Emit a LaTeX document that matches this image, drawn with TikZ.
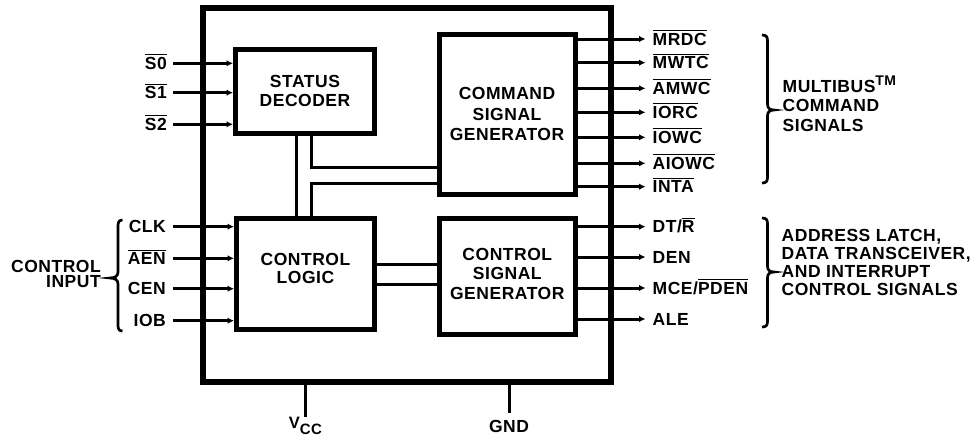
\documentclass[tikz,border=0pt]{standalone}
\usepackage{fontspec}
\setmainfont{Liberation Sans}[LetterSpace=3]
\usetikzlibrary{arrows.meta}
\newsavebox\ovlbox
\newcommand\ovl[1]{\sbox\ovlbox{#1}\rlap{\smash{\raisebox{\dimexpr\ht\ovlbox+1.8pt\relax}{\rule{\wd\ovlbox}{0.9pt}}}}\usebox\ovlbox}
\begin{document}
\begin{tikzpicture}[x=1pt,y=-1pt,
  txt/.style={inner sep=0pt, font=\fontsize{17.5}{19}\selectfont\bfseries},
  blk/.style={draw, line width=5pt},
  sig/.style={line width=3pt, -{Latex[length=6.5pt,width=6.5pt]}},
  bus/.style={line width=2.7pt},
  brc/.style={line width=2.7pt},
  pin/.style={line width=3pt}]
\useasboundingbox (0,0) rectangle (980,439);
% chip outline and blocks
\node[draw, line width=6pt, minimum width=408pt, minimum height=373.5pt] (chip) at (407,194.75) {};
\node[blk, minimum width=139pt, minimum height=83.5pt] (sd) at (305,91.5) {};
\node[blk, minimum width=135.5pt, minimum height=160pt] (cg) at (507.3,114.5) {};
\node[blk, minimum width=138pt, minimum height=111.5pt] (cl) at (305.5,273.8) {};
\node[blk, minimum width=136.5pt, minimum height=116pt] (cs) at (507.3,276) {};
% block texts
\node[txt, align=center, font=\fontsize{17.5}{18.3}\selectfont\bfseries] (sdT) at (305,91) {STATUS\\DECODER};
\node[txt, align=center, font=\fontsize{17.5}{20.3}\selectfont\bfseries] (cgT) at (507,114) {COMMAND\\SIGNAL\\GENERATOR};
\node[txt, align=center, font=\fontsize{17.5}{18.3}\selectfont\bfseries] (clT) at (305.5,268.3) {CONTROL\\LOGIC};
\node[txt, align=center, font=\fontsize{17.5}{19.5}\selectfont\bfseries] (csT) at (507.3,273.8) {CONTROL\\SIGNAL\\GENERATOR};
% internal buses
\coordinate (bl) at (296.7,0);
\coordinate (br) at (311.7,0);
\coordinate (hu) at (0,167.7);
\coordinate (hd) at (0,183.3);
\coordinate (m1) at (0,264.5);
\coordinate (m2) at (0,284.3);
\draw[bus] (bl |- sd.south) -- (bl |- cl.north);
\draw[bus] (br |- sd.south) |- (cg.west |- hu);
\draw[bus] (br |- cl.north) |- (cg.west |- hd);
\draw[bus] (cl.east |- m1) -- (cs.west |- m1);
\draw[bus] (cl.east |- m2) -- (cs.west |- m2);
% status inputs
\node[txt, anchor=east] (s0) at (167,63.3) {\ovl{S0}};
\node[txt, anchor=east] (s1) at (167,92.7) {\ovl{S1}};
\node[txt, anchor=east] (s2) at (167,124.3) {\ovl{S2}};
\foreach \n in {s0,s1,s2} \draw[sig] ([xshift=6pt]\n.east) -- (\n.east -| sd.west);
% control inputs
\node[txt, anchor=east] (clk) at (166,226.7) {CLK};
\node[txt, anchor=east] (aen) at (166,258.3) {\ovl{AEN}};
\node[txt, anchor=east] (cen) at (166,288.7) {CEN};
\node[txt, anchor=east] (iob) at (166,320.7) {IOB};
\foreach \n in {clk,aen,cen,iob} \draw[sig] ([xshift=7pt]\n.east) -- (\n.east -| cl.west);
% command outputs
\node[txt, anchor=west] (mrdc) at (652.5,39) {\ovl{MRDC}};
\node[txt, anchor=west] (mwtc) at (652.5,62.7) {\ovl{MWTC}};
\node[txt, anchor=west] (amwc) at (652.5,88.3) {\ovl{AMWC}};
\node[txt, anchor=west] (iorc) at (652.5,112.3) {\ovl{IORC}};
\node[txt, anchor=west] (iowc) at (652.5,137.3) {\ovl{IOWC}};
\node[txt, anchor=west] (aiowc) at (652.5,163.3) {\ovl{AIOWC}};
\node[txt, anchor=west] (inta) at (652.5,186.7) {\ovl{INTA}};
\foreach \n in {mrdc,mwtc,amwc,iorc,iowc,aiowc,inta} \draw[sig] (cg.east |- \n.west) -- ([xshift=-7pt]\n.west);
% control outputs
\node[txt, anchor=west] (dtr) at (652.5,226.7) {DT/\ovl{R}};
\node[txt, anchor=west] (den) at (652.5,257) {DEN};
\node[txt, anchor=west] (mce) at (652.5,288) {MCE/\ovl{PDEN}};
\node[txt, anchor=west] (ale) at (652.5,319) {ALE};
\foreach \n in {dtr,den,mce,ale} \draw[sig] (cs.east |- \n.west) -- ([xshift=-7pt]\n.west);
% power pins
\node[txt, anchor=north] (vcc) at (305.5,417) {\fontsize{16.5}{16.5}\selectfont V\raisebox{-6pt}{\fontsize{15}{15}\selectfont CC}};
\draw[pin] (vcc.north |- chip.south) -- ([yshift=0.5pt]vcc.north);
\node[txt, anchor=north] (gnd) at (509,420.5) {GND};
\draw[pin] (gnd.north |- chip.south) -- ([yshift=7.5pt]gnd.north);
% braces
\draw[brc] (122.5,220) .. controls (119,220) and (118,222) .. (118,226) -- (118,272) .. controls (118,276) and (115,278) .. (110,278) .. controls (115,278) and (118,280) .. (118,284) -- (118,325) .. controls (118,329) and (119,331) .. (122.5,331);
\draw[brc] (762,35) .. controls (766.5,35) and (767.5,37) .. (767.5,41) -- (767.5,104) .. controls (767.5,108) and (769.5,110) .. (774,110) .. controls (769.5,110) and (767.5,112) .. (767.5,116) -- (767.5,177) .. controls (767.5,181) and (766.5,183) .. (762,183);
\draw[brc] (762,218) .. controls (766.5,218) and (767.5,220) .. (767.5,224) -- (767.5,266) .. controls (767.5,270) and (769.5,272) .. (774,272) .. controls (769.5,272) and (767.5,274) .. (767.5,278) -- (767.5,321) .. controls (767.5,325) and (766.5,327) .. (762,327);
% group labels
\node[txt, anchor=east, align=right, font=\fontsize{17.5}{15.7}\selectfont\bfseries] (ctlin) at (101,273.9) {CONTROL\\INPUT};
\node[txt, anchor=west, align=left, font=\fontsize{17.5}{19.2}\selectfont\bfseries] (mb) at (782.5,105.8) {MULTIBUS\smash{\raisebox{7.5pt}{\fontsize{14}{14}\selectfont TM}}\\COMMAND\\SIGNALS};
\node[txt, anchor=west, align=left, font=\fontsize{17.5}{18.3}\selectfont\bfseries] (adr) at (781.5,262.5) {ADDRESS LATCH,\\DATA TRANSCEIVER,\\AND INTERRUPT\\CONTROL SIGNALS};
\end{tikzpicture}
\end{document}
